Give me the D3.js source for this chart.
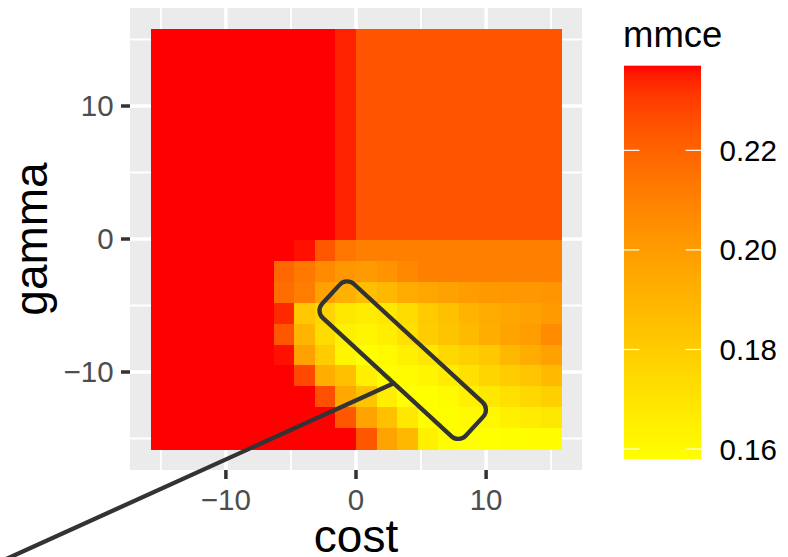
<!DOCTYPE html>
<html><head><meta charset="utf-8">
<script src="https://cdn.jsdelivr.net/npm/d3@7"></script>
<style>
body{margin:0;background:#fff}
svg{display:block}
text{font-family:"Liberation Sans",Arial,Helvetica,sans-serif}
</style>
</head><body>
<svg id="chart" width="788" height="557"></svg>
<script>
// ---- data ----
const costValues  = [-15, -13.42, -11.84, -10.26, -8.68, -7.11, -5.53, -3.95, -2.37, -0.79, 0.79, 2.37, 3.95, 5.53, 7.11, 8.68, 10.26, 11.84, 13.42, 15];
const gammaValues = [-15, -13.42, -11.84, -10.26, -8.68, -7.11, -5.53, -3.95, -2.37, -0.79, 0.79, 2.37, 3.95, 5.53, 7.11, 8.68, 10.26, 11.84, 13.42, 15];
// mmce per gamma row (bottom to top), each row lists cost columns left to right
const R = 0.2370;
const mmceRows = [
  [R,R,R,R,R,R,R,R,R,R, 0.2240,0.1971,0.1884,0.1646,0.1585,0.1582,0.1582,0.1585,0.1588,0.1590],
  [R,R,R,R,R,R,R,R,R, 0.2240,0.1971,0.1850,0.1680,0.1585,0.1583,0.1602,0.1611,0.1646,0.1663,0.1680],
  [R,R,R,R,R,R,R,R, 0.2258,0.1947,0.1833,0.1655,0.1580,0.1582,0.1602,0.1646,0.1680,0.1714,0.1748,0.1782],
  [R,R,R,R,R,R,R, 0.2273,0.1924,0.1850,0.1646,0.1580,0.1593,0.1624,0.1663,0.1714,0.1761,0.1799,0.1829,0.1876],
  [R,R,R,R,R,R, 0.2362,0.1979,0.1799,0.1624,0.1580,0.1602,0.1646,0.1680,0.1748,0.1782,0.1816,0.1884,0.1940,0.1979],
  [R,R,R,R,R,R, 0.2240,0.1900,0.1731,0.1646,0.1624,0.1655,0.1714,0.1799,0.1833,0.1876,0.1924,0.1971,0.1995,0.2058],
  [R,R,R,R,R,R, 0.2336,0.1816,0.1765,0.1680,0.1663,0.1680,0.1731,0.1808,0.1850,0.1900,0.1940,0.1959,0.1979,0.2003],
  [R,R,R,R,R,R, 0.2171,0.2116,0.1979,0.1916,0.1860,0.1884,0.1940,0.1959,0.1979,0.1995,0.2011,0.2019,0.2019,0.2026],
  [R,R,R,R,R,R, 0.2184,0.2130,0.2058,0.2019,0.2003,0.2034,0.2074,0.2102,0.2102,0.2102,0.2102,0.2102,0.2102,0.2102],
  [R,R,R,R,R,R,R, 0.2362,0.2240,0.2140,0.2102,0.2102,0.2102,0.2102,0.2102,0.2102,0.2102,0.2102,0.2102,0.2102],
  [R,R,R,R,R,R,R,R,R, 0.2345,0.2245,0.2245,0.2245,0.2245,0.2245,0.2245,0.2245,0.2245,0.2245,0.2245],
  [R,R,R,R,R,R,R,R,R, 0.2345,0.2245,0.2245,0.2245,0.2245,0.2245,0.2245,0.2245,0.2245,0.2245,0.2245],
  [R,R,R,R,R,R,R,R,R, 0.2345,0.2245,0.2245,0.2245,0.2245,0.2245,0.2245,0.2245,0.2245,0.2245,0.2245],
  [R,R,R,R,R,R,R,R,R, 0.2345,0.2245,0.2245,0.2245,0.2245,0.2245,0.2245,0.2245,0.2245,0.2245,0.2245],
  [R,R,R,R,R,R,R,R,R, 0.2345,0.2245,0.2245,0.2245,0.2245,0.2245,0.2245,0.2245,0.2245,0.2245,0.2245],
  [R,R,R,R,R,R,R,R,R, 0.2345,0.2245,0.2245,0.2245,0.2245,0.2245,0.2245,0.2245,0.2245,0.2245,0.2245],
  [R,R,R,R,R,R,R,R,R, 0.2345,0.2245,0.2245,0.2245,0.2245,0.2245,0.2245,0.2245,0.2245,0.2245,0.2245],
  [R,R,R,R,R,R,R,R,R, 0.2345,0.2245,0.2245,0.2245,0.2245,0.2245,0.2245,0.2245,0.2245,0.2245,0.2245],
  [R,R,R,R,R,R,R,R,R, 0.2345,0.2245,0.2245,0.2245,0.2245,0.2245,0.2245,0.2245,0.2245,0.2245,0.2245],
  [R,R,R,R,R,R,R,R,R, 0.2345,0.2245,0.2245,0.2245,0.2245,0.2245,0.2245,0.2245,0.2245,0.2245,0.2245]
];
const xMajor = [-10, 0, 10];
const xMinor = [-15, -5, 5, 15];
const yMajor = [-10, 0, 10];
const yMinor = [-15, -5, 5, 15];
const legendTicks = [0.16, 0.18, 0.20, 0.22];
const lowColor = "yellow", highColor = "red";
// callout annotation (data coordinates)
const calloutCenter = [3.59, -9.11];
const calloutLine = [[2.90, -10.85], [-29, -25]];

// ---- layout ----
const svg = d3.select("#chart");
const panel = {left:130, right:582, top:8, bottom:470};
const step = costValues[1] - costValues[0];
const gstep = gammaValues[1] - gammaValues[0];
const x0 = costValues[0] - step/2, x1 = costValues[costValues.length-1] + step/2;
const y0 = gammaValues[0] - gstep/2, y1 = gammaValues[gammaValues.length-1] + gstep/2;
const ex = (x1 - x0) * 0.05, ey = (y1 - y0) * 0.05;
const x = d3.scaleLinear().domain([x0 - ex, x1 + ex]).range([panel.left, panel.right]);
const y = d3.scaleLinear().domain([y0 - ey, y1 + ey]).range([panel.bottom, panel.top]);

const cells = [];
mmceRows.forEach((row, j) => row.forEach((v, i) => cells.push({cost: costValues[i], gamma: gammaValues[j], v})));
const ext = d3.extent(cells, d => d.v);
const color = d3.scaleLinear().domain(ext).range([lowColor, highColor]).interpolate(d3.interpolateLab);

// panel background
svg.append("rect").attr("x", panel.left).attr("y", panel.top)
  .attr("width", panel.right - panel.left).attr("height", panel.bottom - panel.top).attr("fill", "#EBEBEB");
const grid = svg.append("g");
xMinor.forEach(t => grid.append("line").attr("x1", x(t)).attr("x2", x(t)).attr("y1", panel.top).attr("y2", panel.bottom).attr("stroke", "#fff").attr("stroke-width", 1.8));
yMinor.forEach(t => grid.append("line").attr("y1", y(t)).attr("y2", y(t)).attr("x1", panel.left).attr("x2", panel.right).attr("stroke", "#fff").attr("stroke-width", 1.8));
xMajor.forEach(t => grid.append("line").attr("x1", x(t)).attr("x2", x(t)).attr("y1", panel.top).attr("y2", panel.bottom).attr("stroke", "#fff").attr("stroke-width", 3.5));
yMajor.forEach(t => grid.append("line").attr("y1", y(t)).attr("y2", y(t)).attr("x1", panel.left).attr("x2", panel.right).attr("stroke", "#fff").attr("stroke-width", 3.5));

// tiles
svg.append("g").attr("shape-rendering", "crispEdges").selectAll("rect").data(cells).join("rect")
  .attr("x", d => x(d.cost - step/2))
  .attr("y", d => y(d.gamma + gstep/2))
  .attr("width", d => x(d.cost + step/2) - x(d.cost - step/2) + 0.5)
  .attr("height", d => y(d.gamma - gstep/2) - y(d.gamma + gstep/2) + 0.5)
  .attr("fill", d => color(d.v));

// callout
const ann = svg.append("g");
const boxL = 195, boxW = 46, angle = 42.6;
ann.append("rect")
  .attr("transform", `translate(${x(calloutCenter[0])},${y(calloutCenter[1])}) rotate(${angle})`)
  .attr("x", -boxL/2).attr("y", -boxW/2).attr("width", boxL).attr("height", boxW)
  .attr("rx", 10).attr("ry", 10)
  .attr("fill", "none").attr("stroke", "#333333").attr("stroke-width", 4.3);
ann.append("line")
  .attr("x1", x(calloutLine[0][0])).attr("y1", y(calloutLine[0][1]))
  .attr("x2", x(calloutLine[1][0])).attr("y2", y(calloutLine[1][1]))
  .attr("stroke", "#333333").attr("stroke-width", 4.3).attr("stroke-linecap", "round");

// axes
const tickLen = 9, tickW = 3.5, tickFont = 29.5;
const axes = svg.append("g");
xMajor.forEach(t => {
  axes.append("line").attr("x1", x(t)).attr("x2", x(t)).attr("y1", panel.bottom).attr("y2", panel.bottom + tickLen).attr("stroke", "#333333").attr("stroke-width", tickW);
  axes.append("text").attr("x", x(t)).attr("y", 510).attr("text-anchor", "middle").attr("font-size", tickFont).attr("fill", "#4D4D4D").text(d3.format("")(t).replace("-", "\u2212"));
});
yMajor.forEach(t => {
  axes.append("line").attr("x1", panel.left - tickLen).attr("x2", panel.left).attr("y1", y(t)).attr("y2", y(t)).attr("stroke", "#333333").attr("stroke-width", tickW);
  axes.append("text").attr("x", panel.left - tickLen - 7.4).attr("y", y(t) + 0.355 * tickFont).attr("text-anchor", "end").attr("font-size", tickFont).attr("fill", "#4D4D4D").text(d3.format("")(t).replace("-", "\u2212"));
});
axes.append("text").attr("x", (panel.left + panel.right)/2).attr("y", 552).attr("text-anchor", "middle").attr("font-size", 46).attr("fill", "#000").text("cost");
axes.append("text").attr("transform", `translate(47,${(panel.top + panel.bottom)/2}) rotate(-90)`).attr("text-anchor", "middle").attr("font-size", 46).attr("fill", "#000").text("gamma");

// legend
const lg = {x:624, w:77, top:65.7, bottom:459};
const ly = d3.scaleLinear().domain(ext).range([lg.bottom, lg.top]);
const defs = svg.append("defs");
const grad = defs.append("linearGradient").attr("id", "lgrad").attr("x1", 0).attr("y1", 1).attr("x2", 0).attr("y2", 0);
d3.range(0, 1.0001, 0.02).forEach(f => grad.append("stop").attr("offset", f).attr("stop-color", color(ext[0] + f * (ext[1] - ext[0]))));
svg.append("rect").attr("x", lg.x).attr("y", lg.top).attr("width", lg.w).attr("height", lg.bottom - lg.top).attr("fill", "url(#lgrad)");
legendTicks.forEach(t => {
  svg.append("line").attr("x1", lg.x).attr("x2", lg.x + lg.w/5).attr("y1", ly(t)).attr("y2", ly(t)).attr("stroke", "#fff").attr("stroke-width", 1.2);
  svg.append("line").attr("x1", lg.x + lg.w - lg.w/5).attr("x2", lg.x + lg.w).attr("y1", ly(t)).attr("y2", ly(t)).attr("stroke", "#fff").attr("stroke-width", 1.2);
  svg.append("text").attr("x", 719.5).attr("y", ly(t) + 0.355 * tickFont).attr("font-size", tickFont).attr("fill", "#000").text(d3.format(".2f")(t));
});
svg.append("text").attr("x", 623).attr("y", 46.5).attr("font-size", 36.5).attr("fill", "#000").text("mmce");
</script>
</body></html>
